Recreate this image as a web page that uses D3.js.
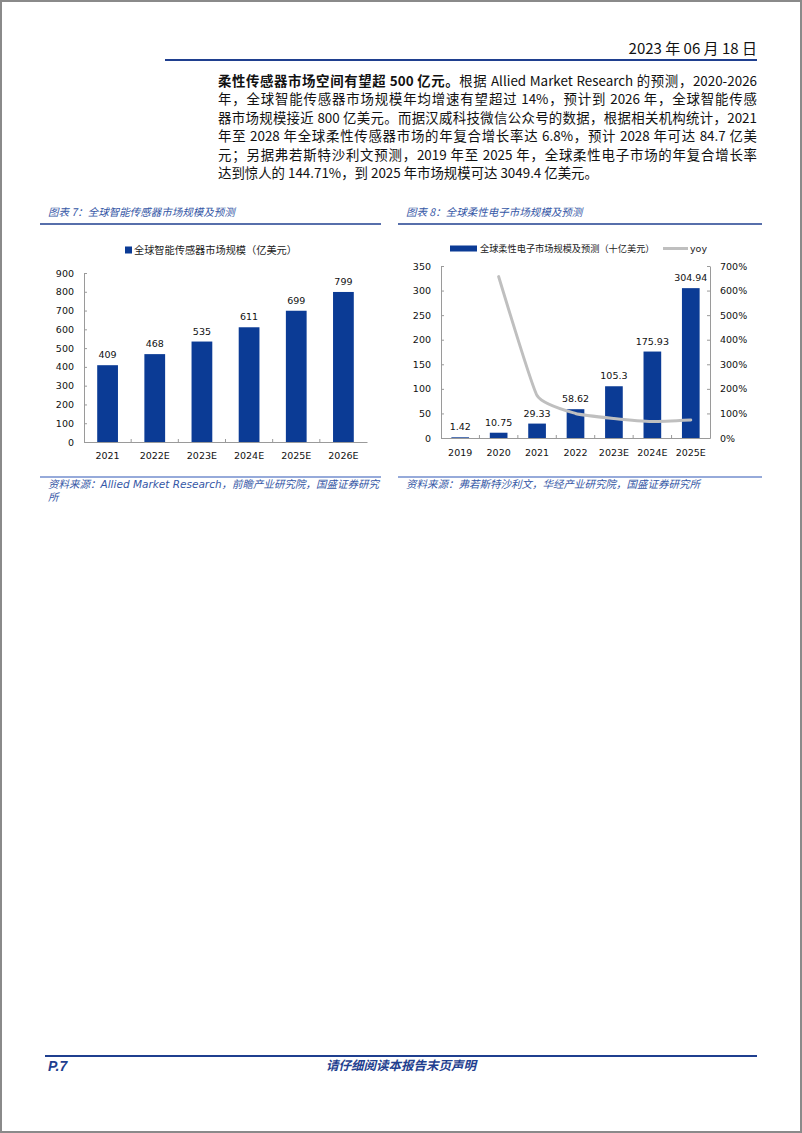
<!DOCTYPE html>
<html><head><meta charset="utf-8">
<script src="https://cdn.jsdelivr.net/npm/d3@7/dist/d3.min.js"></script>
<style>
html,body{margin:0;padding:0;background:#fff;}
#page{position:relative;width:802px;height:1133px;box-sizing:border-box;border:2px solid #8a8a8a;overflow:hidden;}
#svg{position:absolute;left:-2px;top:-2px;}
.para{position:absolute;left:216px;width:539px;font-family:"Liberation Sans Narrow","Noto Sans CJK SC",sans-serif;font-size:13.4px;color:#111;}
.para div{height:18.4px;line-height:18.4px;text-align:justify;text-align-last:justify;white-space:nowrap;}
.para div.last{text-align-last:left;}
b{font-weight:bold;}
</style></head>
<body><div id="page"><svg id="svg" width="802" height="1133"></svg>
<div class="para" id="para" style="top:69px"></div>
</div>
<script>
// ---------- data ----------
const sensorYears = ["2021","2022E","2023E","2024E","2025E","2026E"];
const sensorValues = [409,468,535,611,699,799];
const sensorTicks = [0,100,200,300,400,500,600,700,800,900];

const flexYears = ["2019","2020","2021","2022","2023E","2024E","2025E"];
const flexValues = [1.42,10.75,29.33,58.62,105.3,175.93,304.94];
const flexYoy = [null,657.0,172.8,99.9,79.6,67.1,73.3];
const flexTicksLeft = [0,50,100,150,200,250,300,350];
const flexTicksRight = [0,100,200,300,400,500,600,700];

const paraLines = [
  '<b>柔性传感器市场空间有望超 500 亿元。</b>根据 Allied Market Research 的预测，2020-2026',
  '年，全球智能传感器市场规模年均增速有望超过 14%，预计到 2026 年，全球智能传感',
  '器市场规模接近 800 亿美元。而据汉威科技微信公众号的数据，根据相关机构统计，2021',
  '年至 2028 年全球柔性传感器市场的年复合增长率达 6.8%，预计 2028 年可达 84.7 亿美',
  '元；另据弗若斯特沙利文预测，2019 年至 2025 年，全球柔性电子市场的年复合增长率',
  '达到惊人的 144.71%，到 2025 年市场规模可达 3049.4 亿美元。'
];

// ---------- styles ----------
const BAR = "#0b3b95";
const BLUE = "#1f3f8f";
const TITLEBLUE = "#3557a6";
const AXIS = "#9a9a9a";
const NUMFONT = "'DejaVu Sans', Verdana, sans-serif";
const CJK = "'Noto Sans CJK SC', sans-serif";

const svg = d3.select("#svg");

// paragraph
d3.select("#para").selectAll("div").data(paraLines).join("div")
  .attr("class",(d,i)=> i===paraLines.length-1 ? "last" : null)
  .html(d=>d);

// header
svg.append("text").attr("x",757).attr("y",54).attr("text-anchor","end")
  .attr("font-family","'Liberation Sans Narrow','Noto Sans CJK SC',sans-serif").attr("font-size",15).attr("fill","#111")
  .text("2023 年 06 月 18 日");
svg.append("line").attr("x1",165).attr("x2",757).attr("y1",60).attr("y2",60).attr("stroke",BLUE).attr("stroke-width",2.2);

// footer
svg.append("line").attr("x1",45).attr("x2",757).attr("y1",1056).attr("y2",1056).attr("stroke",BLUE).attr("stroke-width",2.2);
svg.append("text").attr("x",48).attr("y",1071).attr("font-family","'Liberation Sans','DejaVu Sans',sans-serif")
  .attr("font-size",14).attr("font-weight","bold").attr("font-style","italic").attr("fill",BLUE).text("P.7");
svg.append("text").attr("x",401).attr("y",1070).attr("text-anchor","middle").attr("font-family",CJK)
  .attr("font-size",12.5).attr("font-weight","bold").attr("font-style","italic").attr("fill",BLUE).text("请仔细阅读本报告末页声明");

// frame helpers
function frame(x0,x1,title,sourceLines){
  svg.append("text").attr("x",x0+8).attr("y",216).attr("font-family",CJK).attr("font-size",10.5)
    .attr("font-style","italic").attr("fill",TITLEBLUE).text(title);
  svg.append("line").attr("x1",x0).attr("x2",x1).attr("y1",224).attr("y2",224).attr("stroke",BLUE).attr("stroke-width",1.6);
  svg.append("line").attr("x1",x0).attr("x2",x1).attr("y1",477).attr("y2",477).attr("stroke","#2f56b5").attr("stroke-width",1.2);
  sourceLines.forEach((s,i)=>{
    svg.append("text").attr("x",x0+8).attr("y",488+i*12.5).attr("font-family","'DejaVu Sans','Noto Sans CJK SC',sans-serif").attr("font-size",10.5)
      .attr("font-style","italic").attr("fill",TITLEBLUE).text(s);
  });
}
frame(40,381,"图表 7：全球智能传感器市场规模及预测",["资料来源：Allied Market Research，前瞻产业研究院，国盛证券研究","所"]);
frame(398,762,"图表 8：全球柔性电子市场规模及预测",["资料来源：弗若斯特沙利文，华经产业研究院，国盛证券研究所"]);

// ---------- Chart 1 ----------
{
  const g = svg.append("g");
  const x = d3.scaleBand().domain(sensorYears).range([84,367]).paddingInner(0.56).paddingOuter(0.28);
  const y = d3.scaleLinear().domain([0,900]).range([442,273]);
  // legend
  g.append("rect").attr("x",125).attr("y",246.5).attr("width",7).attr("height",7).attr("fill",BAR);
  g.append("text").attr("x",134).attr("y",254).attr("font-family",CJK).attr("font-size",10.2).attr("fill","#222")
    .text("全球智能传感器市场规模（亿美元）");
  // y axis
  const ya = g.append("g").attr("transform","translate(84,0)")
    .call(d3.axisLeft(y).tickValues(sensorTicks).tickSize(-3).tickPadding(10).tickSizeOuter(0));
  ya.select(".domain").attr("stroke",AXIS);
  ya.selectAll(".tick line").attr("stroke",AXIS);
  ya.selectAll("text").attr("font-family",NUMFONT).attr("font-size",9.5).attr("fill","#111");
  // bars
  g.selectAll("rect.bar").data(sensorValues).join("rect").attr("class","bar")
    .attr("x",(d,i)=>x(sensorYears[i])).attr("width",x.bandwidth())
    .attr("y",d=>y(d)).attr("height",d=>y(0)-y(d)).attr("fill",BAR);
  g.selectAll("text.val").data(sensorValues).join("text").attr("class","val")
    .attr("x",(d,i)=>x(sensorYears[i])+x.bandwidth()/2).attr("y",d=>y(d)-7)
    .attr("text-anchor","middle").attr("font-family",NUMFONT).attr("font-size",9.5).attr("fill","#111").text(d=>d);
  // x axis
  const xa = g.append("g").attr("transform","translate(0,442)")
    .call(d3.axisBottom(x).tickSize(0).tickPadding(10));
  xa.select(".domain").attr("stroke",AXIS);
  xa.selectAll("text").attr("font-family",NUMFONT).attr("font-size",9.5).attr("fill","#111");
  g.selectAll("line.xt").data(sensorYears.slice(1)).join("line").attr("class","xt")
    .attr("x1",d=>x(d)-x.step()*x.paddingInner()/2).attr("x2",d=>x(d)-x.step()*x.paddingInner()/2)
    .attr("y1",442).attr("y2",439).attr("stroke",AXIS);
}

// ---------- Chart 2 ----------
{
  const g = svg.append("g");
  const x = d3.scaleBand().domain(flexYears).range([441,710]).paddingInner(0.54).paddingOuter(0.27);
  const y = d3.scaleLinear().domain([0,350]).range([438,266]);
  const y2 = d3.scaleLinear().domain([0,700]).range([438,266]);
  // legend
  g.append("rect").attr("x",450).attr("y",245.5).attr("width",27).attr("height",6).attr("fill",BAR);
  g.append("text").attr("x",480).attr("y",252).attr("font-family",CJK).attr("font-size",9.2).attr("fill","#222")
    .text("全球柔性电子市场规模及预测（十亿美元）");
  g.append("line").attr("x1",663).attr("x2",688).attr("y1",248.5).attr("y2",248.5).attr("stroke","#bfbfbf").attr("stroke-width",3);
  g.append("text").attr("x",690).attr("y",252).attr("font-family",NUMFONT).attr("font-size",9.5).attr("fill","#222").text("yoy");
  // axes
  const ya = g.append("g").attr("transform","translate(441,0)")
    .call(d3.axisLeft(y).tickValues(flexTicksLeft).tickSize(-3).tickPadding(10).tickSizeOuter(0));
  const yb = g.append("g").attr("transform","translate(710,0)")
    .call(d3.axisRight(y2).tickValues(flexTicksRight).tickSize(-3).tickPadding(10).tickSizeOuter(0).tickFormat(d=>d+"%"));
  [ya,yb].forEach(a=>{
    a.select(".domain").attr("stroke",AXIS);
    a.selectAll(".tick line").attr("stroke",AXIS);
    a.selectAll("text").attr("font-family",NUMFONT).attr("font-size",9.5).attr("fill","#111");
  });
  // bars
  g.selectAll("rect.bar").data(flexValues).join("rect").attr("class","bar")
    .attr("x",(d,i)=>x(flexYears[i])).attr("width",x.bandwidth())
    .attr("y",d=>y(d)).attr("height",d=>y(0)-y(d)).attr("fill",BAR);
  g.selectAll("text.val").data(flexValues).join("text").attr("class","val")
    .attr("x",(d,i)=>x(flexYears[i])+x.bandwidth()/2).attr("y",d=>y(d)-7)
    .attr("text-anchor","middle").attr("font-family",NUMFONT).attr("font-size",9.5).attr("fill","#111").text(d=>d);
  // x axis
  const xa = g.append("g").attr("transform","translate(0,438)")
    .call(d3.axisBottom(x).tickSize(0).tickPadding(11));
  xa.select(".domain").attr("stroke",AXIS);
  xa.selectAll("text").attr("font-family",NUMFONT).attr("font-size",9.5).attr("fill","#111");
  g.selectAll("line.xt").data(flexYears.slice(1)).join("line").attr("class","xt")
    .attr("x1",d=>x(d)-x.step()*x.paddingInner()/2).attr("x2",d=>x(d)-x.step()*x.paddingInner()/2)
    .attr("y1",438).attr("y2",435).attr("stroke",AXIS);
  // yoy line
  const pts = flexYoy.map((v,i)=>({k:flexYears[i],v})).filter(p=>p.v!=null);
  g.append("path").datum(pts)
    .attr("d",d3.line().x(p=>x(p.k)+x.bandwidth()/2).y(p=>y2(p.v)).curve(d3.curveCardinal.tension(0.6)))
    .attr("fill","none").attr("stroke","#bfbfbf").attr("stroke-width",3).attr("stroke-linecap","round");
}
</script>
</body></html>
